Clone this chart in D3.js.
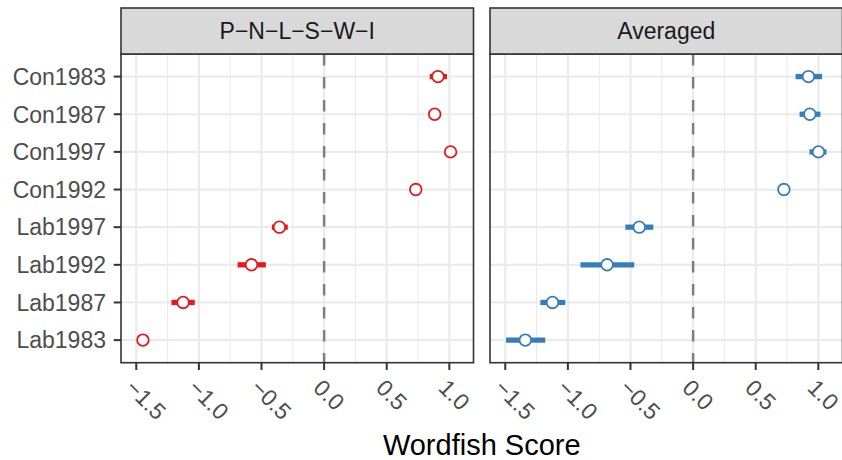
<!DOCTYPE html>
<html>
<head>
<meta charset="utf-8">
<script src="https://cdn.jsdelivr.net/npm/d3@7"></script>
<style>
  html, body { margin: 0; padding: 0; background: #fff; }
  svg { display: block; font-family: "Liberation Sans", Arial, Helvetica, sans-serif; }
</style>
</head>
<body>
<svg id="chart" width="842" height="460"></svg>
<script>
// Documents, top to bottom
const categories = ["Con1983", "Con1987", "Con1997", "Con1992", "Lab1997", "Lab1992", "Lab1987", "Lab1983"];
const panelTitles = ["P−N−L−S−W−I", "Averaged"];
const panelColors = ["#E41A1C", "#377EB8"];

// Wordfish positions with confidence bounds, per panel
const pnlswiScore = [0.909, 0.883, 1.010, 0.732, -0.357, -0.580, -1.126, -1.447];
const pnlswiLower = [0.843, 0.860, 0.990, 0.710, -0.417, -0.691, -1.219, -1.470];
const pnlswiUpper = [0.981, 0.905, 1.030, 0.755, -0.290, -0.465, -1.033, -1.425];

const avgScore = [0.921, 0.932, 1.001, 0.725, -0.430, -0.687, -1.123, -1.340];
const avgLower = [0.818, 0.850, 0.929, 0.700, -0.541, -0.900, -1.220, -1.494];
const avgUpper = [1.030, 1.017, 1.065, 0.750, -0.318, -0.470, -1.021, -1.181];

const xTicks = [-1.5, -1.0, -0.5, 0.0, 0.5, 1.0];
const xMinorTicks = [-1.25, -0.75, -0.25, 0.25, 0.75];
const xTitle = "Wordfish Score";

const panelsData = [
  { title: panelTitles[0], color: panelColors[0], score: pnlswiScore, lower: pnlswiLower, upper: pnlswiUpper },
  { title: panelTitles[1], color: panelColors[1], score: avgScore, lower: avgLower, upper: avgUpper }
];

// Layout
const panelX0 = [121, 490];
const panelW = 352.5;
const stripTop = 8, stripBottom = 54, panelBottom = 362.7;
const fontSize = 23;
const border = "#333333";
const gridCol = "#EBEBEB";

// Shared x scale: data extent with 5% expansion
const allLo = d3.min([...pnlswiLower, ...avgLower]);
const allHi = d3.max([...pnlswiUpper, ...avgUpper]);
const pad = (allHi - allLo) * 0.05;
const xDomain = [allLo - pad, allHi + pad];

const y = d3.scalePoint().domain(categories).range([stripBottom, panelBottom]).padding(0.6);
const fmt = d3.format(".1f");

const svg = d3.select("#chart");

panelsData.forEach((p, i) => {
  const x0 = panelX0[i];
  const x = d3.scaleLinear().domain(xDomain).range([x0, x0 + panelW]);
  const g = svg.append("g");

  // panel background
  g.append("rect").attr("x", x0).attr("y", stripBottom)
    .attr("width", panelW).attr("height", panelBottom - stripBottom).attr("fill", "#fff");

  // minor gridlines
  g.selectAll(".minor").data(xMinorTicks.filter(v => x(v) > x0 && x(v) < x0 + panelW)).join("line")
    .attr("x1", d => x(d)).attr("x2", d => x(d))
    .attr("y1", stripBottom).attr("y2", panelBottom)
    .attr("stroke", gridCol).attr("stroke-width", 1.1);

  // major gridlines
  g.selectAll(".majorx").data(xTicks).join("line")
    .attr("x1", d => x(d)).attr("x2", d => x(d))
    .attr("y1", stripBottom).attr("y2", panelBottom)
    .attr("stroke", gridCol).attr("stroke-width", 2.2);
  g.selectAll(".majory").data(categories).join("line")
    .attr("x1", x0).attr("x2", x0 + panelW)
    .attr("y1", d => y(d)).attr("y2", d => y(d))
    .attr("stroke", gridCol).attr("stroke-width", 2.2);

  // zero reference line
  g.append("line")
    .attr("x1", x(0)).attr("x2", x(0))
    .attr("y1", stripBottom).attr("y2", panelBottom)
    .attr("stroke", "#7F7F7F").attr("stroke-width", 2.5)
    .attr("stroke-dasharray", "11.5,11.5");

  // confidence intervals
  g.selectAll(".ci").data(categories).join("line")
    .attr("x1", (d, k) => x(p.lower[k])).attr("x2", (d, k) => x(p.upper[k]))
    .attr("y1", d => y(d)).attr("y2", d => y(d))
    .attr("stroke", p.color).attr("stroke-width", 5.3);

  // point estimates
  g.selectAll(".pt").data(categories).join("circle")
    .attr("cx", (d, k) => x(p.score[k])).attr("cy", d => y(d))
    .attr("r", 5.8).attr("fill", "#fff")
    .attr("stroke", p.color).attr("stroke-width", 1.8);

  // panel border
  g.append("rect").attr("x", x0).attr("y", stripBottom)
    .attr("width", panelW).attr("height", panelBottom - stripBottom)
    .attr("fill", "none").attr("stroke", border).attr("stroke-width", 1.6);

  // strip
  g.append("rect").attr("x", x0).attr("y", stripTop)
    .attr("width", panelW).attr("height", stripBottom - stripTop)
    .attr("fill", "#D9D9D9").attr("stroke", border).attr("stroke-width", 1.6);
  g.append("text").attr("x", x0 + panelW / 2).attr("y", (stripTop + stripBottom) / 2 + fontSize * 0.36)
    .attr("text-anchor", "middle").attr("font-size", fontSize).attr("fill", "#1A1A1A")
    .text(p.title);

  // x axis ticks and rotated labels
  const xa = g.append("g");
  xa.selectAll("line").data(xTicks).join("line")
    .attr("x1", d => x(d)).attr("x2", d => x(d))
    .attr("y1", panelBottom).attr("y2", panelBottom + 7.3)
    .attr("stroke", border).attr("stroke-width", 2);
  xa.selectAll("text").data(xTicks).join("text")
    .attr("transform", d => `translate(${x(d) - 12},${panelBottom + 26.6}) rotate(45)`)
    .attr("text-anchor", "start").attr("font-size", fontSize).attr("fill", "#4D4D4D")
    .text(d => fmt(d));

  // y axis on the first panel only
  if (i === 0) {
    const ya = g.append("g");
    ya.selectAll("line").data(categories).join("line")
      .attr("x1", x0 - 7.3).attr("x2", x0)
      .attr("y1", d => y(d)).attr("y2", d => y(d))
      .attr("stroke", border).attr("stroke-width", 2);
    ya.selectAll("text").data(categories).join("text")
      .attr("x", x0 - 15).attr("y", d => y(d) + fontSize * 0.36)
      .attr("text-anchor", "end").attr("font-size", fontSize).attr("fill", "#4D4D4D")
      .text(d => d);
  }
});

// axis title
svg.append("text")
  .attr("x", (panelX0[0] + panelX0[1] + panelW) / 2).attr("y", 455)
  .attr("text-anchor", "middle").attr("font-size", 29).attr("fill", "#000")
  .text(xTitle);
</script>
</body>
</html>
